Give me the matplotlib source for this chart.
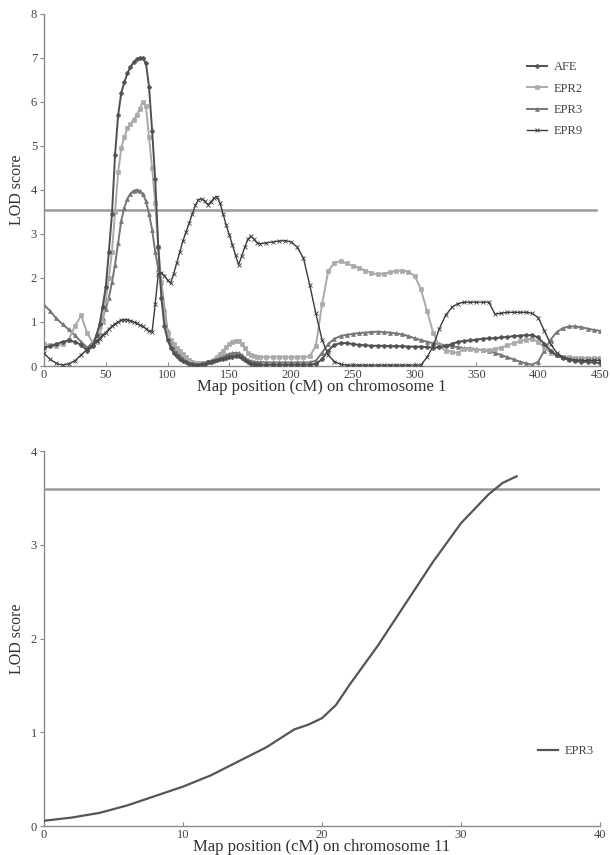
import numpy as np
import matplotlib
matplotlib.use("Agg")
import matplotlib.pyplot as plt

plt.rcParams['font.family'] = ['Liberation Serif', 'DejaVu Serif']

# ---------------- Chromosome 1 data ----------------
pos_a = [0, 5, 10, 15, 20, 25, 30, 35, 40]
pos_b = [42.5, 45, 47.5, 50, 52.5, 55, 57.5, 60, 62.5, 65, 67.5, 70, 72.5, 75, 77.5,
         80, 82.5, 85, 87.5, 90, 92.5, 95, 97.5, 100, 102.5, 105, 107.5, 110, 112.5,
         115, 117.5, 120, 122.5, 125, 127.5, 130, 132.5, 135, 137.5, 140, 142.5, 145,
         147.5, 150, 152.5, 155, 157.5, 160, 162.5, 165, 167.5, 170, 172.5]
pos_c = [175, 180, 185, 190, 195, 200, 205, 210, 215, 220, 225, 230, 235, 240, 245,
         250, 255, 260, 265, 270, 275, 280, 285, 290, 295, 300, 305, 310, 315, 320,
         325, 330, 335, 340, 345, 350, 355, 360, 365, 370, 375, 380, 385, 390, 395,
         400, 405, 410, 415, 420, 425, 430, 435, 440, 445, 450]
positions_chr1 = pos_a + pos_b + pos_c

afe = [0.42, 0.45, 0.5, 0.55, 0.58, 0.55, 0.48, 0.35, 0.45,
       0.7, 0.95, 1.35, 1.8, 2.6, 3.45, 4.8, 5.7, 6.2, 6.45,
       6.65, 6.8, 6.9, 6.97, 7.0, 7.0, 6.88, 6.35, 5.35, 4.25,
       2.7, 1.55, 0.9, 0.6, 0.42, 0.3, 0.22, 0.15, 0.11, 0.08,
       0.05, 0.04, 0.03, 0.03, 0.04, 0.05, 0.08, 0.1, 0.12, 0.14,
       0.15, 0.17, 0.18, 0.2, 0.21, 0.22, 0.22, 0.18, 0.13, 0.08,
       0.05, 0.04, 0.03,
       0.03, 0.03, 0.03, 0.03, 0.03, 0.03, 0.03, 0.03, 0.03, 0.05,
       0.15, 0.35, 0.48, 0.52, 0.52, 0.5, 0.48, 0.47, 0.46, 0.46,
       0.46, 0.45, 0.45, 0.45, 0.44, 0.44, 0.44, 0.43, 0.42, 0.43,
       0.45, 0.5, 0.55, 0.57, 0.58, 0.6, 0.62, 0.63, 0.63, 0.65,
       0.66, 0.68, 0.69, 0.7, 0.7, 0.65, 0.5, 0.35, 0.24, 0.18,
       0.14, 0.12, 0.1, 0.09, 0.08, 0.07]

epr2 = [0.5, 0.47, 0.45, 0.5, 0.6, 0.9, 1.15, 0.75, 0.5,
        0.55, 0.7, 1.0, 1.5, 2.0, 2.6, 3.5, 4.4, 4.95, 5.2,
        5.4, 5.5, 5.6, 5.7, 5.85, 6.0, 5.9, 5.2, 4.5, 3.7,
        2.7, 1.9, 1.2, 0.75, 0.6, 0.5, 0.42, 0.35, 0.27, 0.2,
        0.14, 0.1, 0.07, 0.06, 0.06, 0.06, 0.08, 0.1, 0.14, 0.2,
        0.27, 0.35, 0.43, 0.5, 0.55, 0.57, 0.56, 0.5, 0.4, 0.3,
        0.24, 0.22, 0.21,
        0.2, 0.2, 0.2, 0.2, 0.2, 0.2, 0.2, 0.2, 0.22, 0.45,
        1.4, 2.15, 2.35, 2.38, 2.33, 2.28, 2.23, 2.17, 2.12, 2.08,
        2.1, 2.13, 2.16, 2.17, 2.14, 2.05, 1.75, 1.25, 0.75, 0.45,
        0.35, 0.32, 0.3, 0.38, 0.38, 0.37, 0.36, 0.36, 0.38, 0.42,
        0.47, 0.52, 0.56, 0.6, 0.62, 0.55, 0.42, 0.3, 0.24, 0.21,
        0.2, 0.19, 0.19, 0.18, 0.18, 0.18]

epr3 = [1.39, 1.25, 1.08, 0.95, 0.83, 0.7, 0.55, 0.42, 0.55,
        0.7, 0.9, 1.1, 1.3, 1.55, 1.9, 2.3, 2.8, 3.3, 3.6,
        3.8, 3.92, 3.98, 4.0, 3.98, 3.9, 3.75, 3.45, 3.1, 2.6,
        2.2, 1.9, 1.3, 0.8, 0.55, 0.4, 0.32, 0.25, 0.2, 0.15,
        0.11, 0.08, 0.06, 0.05, 0.06, 0.07, 0.1, 0.12, 0.15, 0.17,
        0.2, 0.22, 0.25, 0.27, 0.29, 0.3, 0.29, 0.25, 0.19, 0.14,
        0.11, 0.1, 0.09,
        0.09, 0.08, 0.08, 0.08, 0.08, 0.08, 0.08, 0.08, 0.08, 0.12,
        0.3, 0.5, 0.62, 0.68, 0.71, 0.73, 0.75, 0.76, 0.77, 0.78,
        0.77, 0.76, 0.74, 0.72, 0.68, 0.63, 0.59, 0.55, 0.52, 0.5,
        0.47, 0.45, 0.43, 0.41, 0.4, 0.38, 0.36, 0.34, 0.3, 0.25,
        0.2, 0.15, 0.1, 0.06, 0.03, 0.1, 0.35, 0.6, 0.77, 0.86,
        0.9, 0.9, 0.88, 0.85, 0.82, 0.8]

epr9 = [0.29, 0.15, 0.06, 0.02, 0.05, 0.12, 0.25, 0.38, 0.5,
        0.56, 0.62, 0.7, 0.76, 0.84, 0.9, 0.96, 1.0, 1.04, 1.05,
        1.05, 1.03, 1.0, 0.97, 0.93, 0.9, 0.85, 0.8, 0.78, 1.4,
        2.1, 2.12, 2.05, 1.95, 1.88, 2.1, 2.35, 2.6, 2.85, 3.05,
        3.25, 3.45, 3.65, 3.78, 3.8, 3.75, 3.67, 3.72, 3.82, 3.85,
        3.7, 3.45, 3.2, 2.98, 2.75, 2.52, 2.3, 2.5, 2.7, 2.88,
        2.95, 2.88, 2.8,
        2.78, 2.8, 2.82, 2.84, 2.85, 2.82, 2.7, 2.45, 1.85, 1.2,
        0.6, 0.25, 0.1, 0.04, 0.02, 0.02, 0.02, 0.02, 0.02, 0.02,
        0.02, 0.02, 0.02, 0.02, 0.02, 0.02, 0.02, 0.2, 0.45, 0.85,
        1.15, 1.33, 1.42, 1.45, 1.45, 1.45, 1.45, 1.45, 1.18, 1.2,
        1.22, 1.22, 1.22, 1.22, 1.2, 1.1, 0.8, 0.5, 0.3, 0.2,
        0.16, 0.14, 0.13, 0.13, 0.13, 0.13]

threshold_chr1 = 3.55

# ---------------- Chromosome 11 data ----------------
positions_chr11 = [0, 2, 4, 6, 8, 10, 12, 14, 16, 18, 19, 20, 21, 22, 24, 26, 28, 30, 32, 33, 34]
epr3_chr11 = [0.056, 0.09, 0.14, 0.22, 0.32, 0.42, 0.54, 0.69, 0.84, 1.03, 1.08, 1.15,
              1.29, 1.51, 1.92, 2.37, 2.82, 3.23, 3.54, 3.66, 3.73]
threshold_chr11 = 3.6

fig = plt.figure(figsize=(6.1, 8.55), dpi=100)

axis_gray = '#8a8a8a'
text_gray = '#444444'


def style_axes(ax):
    for s in ['top', 'right']:
        ax.spines[s].set_visible(False)
    for s in ['left', 'bottom']:
        ax.spines[s].set_color(axis_gray)
        ax.spines[s].set_linewidth(1.0)
    ax.tick_params(axis='both', colors=axis_gray, labelcolor=text_gray,
                   labelsize=9, length=3, width=0.8)
    ax.tick_params(axis='x', direction='in', pad=2)
    ax.tick_params(axis='y', direction='out', pad=2)


# ---------- Top panel ----------
ax1 = fig.add_axes([44 / 610, 1 - 366 / 855, 556 / 610, 352 / 855])
ax1.plot(positions_chr1, epr9, color='#3c3c3c', lw=1.0, marker='x', ms=2.5, mew=0.6, label='EPR9', zorder=3)
ax1.plot(positions_chr1, epr3, color='#777777', lw=1.4, marker='^', ms=2.8, mew=0.5, label='EPR3', zorder=2)
ax1.plot(positions_chr1, epr2, color='#aaaaaa', lw=1.4, marker='s', ms=2.6, mew=0.5, label='EPR2', zorder=2)
ax1.plot(positions_chr1, afe, color='#505050', lw=1.4, marker='P', ms=3.0, mew=0.4, label='AFE', zorder=4)
ax1.plot([0, 447], [threshold_chr1, threshold_chr1], color='#9a9a9a', lw=1.8, zorder=1)
ax1.set_xlim(0, 450)
ax1.set_ylim(0, 8)
ax1.set_xticks(range(0, 451, 50))
ax1.set_yticks(range(0, 9))
style_axes(ax1)
ax1.set_xlabel('Map position (cM) on chromosome 1', fontsize=12, color='#333333', labelpad=-1)
ax1.set_ylabel('LOD score', fontsize=11.5, color='#333333', labelpad=4)
h, l = ax1.get_legend_handles_labels()
order = [3, 2, 1, 0]
leg1 = ax1.legend([h[i] for i in order], [l[i] for i in order], loc='upper left',
                  bbox_to_anchor=(0.86, 0.88), frameon=False, fontsize=9,
                  handlelength=1.6, labelspacing=0.75, handletextpad=0.5,
                  borderaxespad=0)
for t in leg1.get_texts():
    t.set_color('#444444')

# ---------- Bottom panel ----------
ax2 = fig.add_axes([44 / 610, 1 - 826 / 855, 556 / 610, 375 / 855])
ax2.plot(positions_chr11, epr3_chr11, color='#555555', lw=1.6, label='EPR3', zorder=3)
ax2.plot([0, 40], [threshold_chr11, threshold_chr11], color='#9a9a9a', lw=1.8, zorder=1)
ax2.set_xlim(0, 40)
ax2.set_ylim(0, 4)
ax2.set_xticks(range(0, 41, 10))
ax2.set_yticks(range(0, 5))
style_axes(ax2)
ax2.set_xlabel('Map position (cM) on chromosome 11', fontsize=12, color='#333333', labelpad=-1)
ax2.set_ylabel('LOD score', fontsize=11.5, color='#333333', labelpad=4)
leg2 = ax2.legend(loc='center left', bbox_to_anchor=(0.88, 0.2), frameon=False,
                  fontsize=9, handlelength=1.6, handletextpad=0.5, borderaxespad=0)
for t in leg2.get_texts():
    t.set_color('#444444')

fig.savefig('out.png', dpi=100)
